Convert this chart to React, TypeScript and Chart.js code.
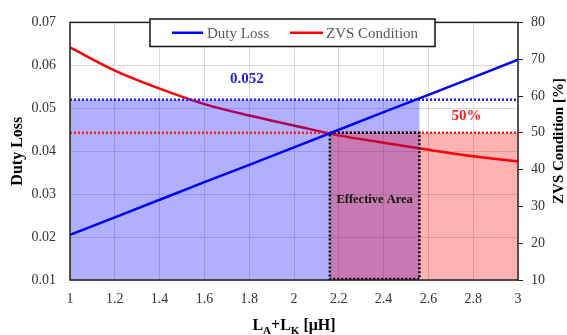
import React, { useEffect, useRef } from "react";
import { Chart, registerables } from "chart.js";

Chart.register(...registerables);

const xValues = [1, 1.2, 1.4, 1.6, 1.8, 2.0, 2.2, 2.4, 2.6, 2.8, 3.0];
const dutyLoss = [0.0205, 0.0246, 0.0287, 0.0328, 0.0368, 0.0409, 0.045, 0.0491, 0.0531, 0.0572, 0.0613];
const zvsCondition = [73.2, 66.9, 62.0, 57.8, 54.7, 52.0, 49.3, 47.3, 45.4, 43.6, 42.2];

const seriesNames = ["Duty Loss", "ZVS Condition"];
const dutyLimit = 0.052;
const zvsLimit = 50;
const xZvsLimit = 2.16;
const xDutyLimit = 2.56;
const dutyLimitLabel = "0.052";
const zvsLimitLabel = "50%";
const areaLabel = "Effective Area";
const labelDutyPos = { x: 1.79, y: 0.0568 };
const labelZvsPos = { x: 2.77, y: 54.5 };

const SERIF = "'Liberation Serif', 'Times New Roman', serif";

const overlayPlugin = {
  id: "overlay",
  afterDatasetDraw(chart: any, args: any) {
    if (args.index !== 1) return;
    const { ctx, chartArea: a, scales } = chart;
    const x = scales.x, y = scales.y, y2 = scales.y2;
    const xd = x.getPixelForValue(xDutyLimit);
    const xz = x.getPixelForValue(xZvsLimit);
    const yd = y.getPixelForValue(dutyLimit);
    const yz = y2.getPixelForValue(zvsLimit);
    ctx.save();
    ctx.fillStyle = "rgba(0,0,255,0.31)";
    ctx.fillRect(a.left, yd, xd - a.left, a.bottom - yd);
    ctx.fillStyle = "rgba(255,0,0,0.3)";
    ctx.fillRect(xz, yz, a.right - xz, a.bottom - yz);

    ctx.lineWidth = 2.5;
    ctx.setLineDash([2, 2]);
    ctx.strokeStyle = "#1a1aff";
    ctx.beginPath();
    ctx.moveTo(a.left, yd);
    ctx.lineTo(a.right, yd);
    ctx.stroke();
    ctx.strokeStyle = "#ff1a1a";
    ctx.beginPath();
    ctx.moveTo(a.left, yz);
    ctx.lineTo(a.right, yz);
    ctx.stroke();
    ctx.strokeStyle = "#000";
    ctx.beginPath();
    ctx.rect(xz, yz, xd - xz, a.bottom - yz - 1);
    ctx.stroke();
    ctx.restore();
  },
  afterDraw(chart: any) {
    const { ctx, chartArea: a, scales } = chart;
    const x = scales.x, y = scales.y, y2 = scales.y2;
    ctx.save();
    // plot border
    ctx.setLineDash([]);
    ctx.strokeStyle = "#222";
    ctx.lineWidth = 1.5;
    ctx.strokeRect(a.left, a.top, a.right - a.left, a.bottom - a.top);

    // value labels
    ctx.textAlign = "center";
    ctx.textBaseline = "middle";
    ctx.font = `bold 15px ${SERIF}`;
    ctx.fillStyle = "#1f1fe6";
    ctx.fillText(dutyLimitLabel, x.getPixelForValue(labelDutyPos.x), y.getPixelForValue(labelDutyPos.y));
    ctx.fillStyle = "#ff2020";
    ctx.fillText(zvsLimitLabel, x.getPixelForValue(labelZvsPos.x), y2.getPixelForValue(labelZvsPos.y));
    ctx.font = `bold 12.5px ${SERIF}`;
    ctx.fillStyle = "#111";
    const xd = x.getPixelForValue(xDutyLimit);
    const xz = x.getPixelForValue(xZvsLimit);
    ctx.fillText(areaLabel, (xd + xz) / 2, 200);

    // legend
    const lx = 150, ly = 19, lw = 285, lh = 27.5;
    ctx.fillStyle = "#fff";
    ctx.fillRect(lx, ly, lw, lh);
    ctx.strokeStyle = "#111";
    ctx.lineWidth = 1.5;
    ctx.strokeRect(lx, ly, lw, lh);
    const my = ly + lh / 2;
    ctx.lineWidth = 2.5;
    ctx.strokeStyle = "#0000ff";
    ctx.beginPath(); ctx.moveTo(172, my); ctx.lineTo(203, my); ctx.stroke();
    ctx.strokeStyle = "#ff0000";
    ctx.beginPath(); ctx.moveTo(290, my); ctx.lineTo(323, my); ctx.stroke();
    ctx.font = `15px ${SERIF}`;
    ctx.fillStyle = "#595959";
    ctx.textAlign = "left";
    ctx.fillText(seriesNames[0], 207, my + 1);
    ctx.fillText(seriesNames[1], 326, my + 1);

    // axis titles
    ctx.fillStyle = "#000";
    ctx.textAlign = "center";
    ctx.font = `bold 16px ${SERIF}`;
    ctx.save();
    ctx.translate(18, (a.top + a.bottom) / 2);
    ctx.rotate(-Math.PI / 2);
    ctx.fillText("Duty Loss", 0, 0);
    ctx.restore();
    ctx.save();
    ctx.font = `bold 15px ${SERIF}`;
    ctx.translate(559, 141);
    ctx.rotate(-Math.PI / 2);
    ctx.fillText("ZVS Condition [%]", 0, 0);
    ctx.restore();

    // x title with subscripts
    const big = `bold 16px ${SERIF}`;
    const small = `bold 11px ${SERIF}`;
    const parts: [string, string, number][] = [
      ["L", big, 0], ["A", small, 4], ["+L", big, 0], ["K", small, 4], [" [\u03bcH]", big, 0],
    ];
    ctx.textAlign = "left";
    ctx.textBaseline = "alphabetic";
    let total = 0;
    for (const [t, f] of parts) { ctx.font = f; total += ctx.measureText(t).width; }
    let cx = (a.left + a.right) / 2 - total / 2;
    const base = 330;
    for (const [t, f, dy] of parts) {
      ctx.font = f;
      ctx.fillText(t, cx, base + dy);
      cx += ctx.measureText(t).width;
    }
    ctx.restore();
  },
};

export default function App() {
  const ref = useRef<HTMLCanvasElement | null>(null);
  useEffect(() => {
    document.body.style.margin = "0";
    const canvas = ref.current!;
    const chart = new Chart(canvas, {
      type: "line",
      data: {
        datasets: [
          {
            label: seriesNames[0],
            data: xValues.map((v, i) => ({ x: v, y: dutyLoss[i] })),
            borderColor: "#0000ff",
            borderWidth: 2.5,
            pointRadius: 0,
            yAxisID: "y",
          },
          {
            label: seriesNames[1],
            data: xValues.map((v, i) => ({ x: v, y: zvsCondition[i] })),
            borderColor: "#ff0000",
            borderWidth: 2.5,
            pointRadius: 0,
            cubicInterpolationMode: "monotone",
            yAxisID: "y2",
          },
        ],
      },
      options: {
        responsive: false,
        animation: false,
        devicePixelRatio: 1,
        layout: { padding: { top: 13, left: 0, right: 0, bottom: 0 } },
        plugins: { legend: { display: false }, tooltip: { enabled: false } },
        scales: {
          x: {
            type: "linear",
            min: 1,
            max: 3,
            ticks: {
              stepSize: 0.2,
              color: "#333",
              padding: 11,
              font: { family: SERIF, size: 14 },
              callback: (v: any) => String(Math.round(Number(v) * 10) / 10),
            },
            grid: { color: "#d9d9d9", drawTicks: false },
            border: { display: false },
            afterFit: (s: any) => { s.height = 55; },
          },
          y: {
            position: "left",
            min: 0.01,
            max: 0.07,
            ticks: {
              stepSize: 0.01,
              color: "#333",
              padding: 14,
              font: { family: SERIF, size: 14 },
              callback: (v: any) => Number(v).toFixed(2),
            },
            grid: { color: "#d9d9d9", drawTicks: false },
            border: { display: false },
            afterFit: (s: any) => { s.width = 70; },
          },
          y2: {
            position: "right",
            min: 10,
            max: 80,
            ticks: { stepSize: 10, color: "#333", padding: 8, font: { family: SERIF, size: 14 } },
            grid: { drawOnChartArea: false, drawTicks: true, tickLength: 5, color: "#222" },
            border: { display: false },
            afterFit: (s: any) => { s.width = 49; },
          },
        },
      },
      plugins: [overlayPlugin],
    } as any);
    return () => chart.destroy();
  }, []);
  return (
    <div style={{ width: 567, height: 335 }}>
      <canvas ref={ref} width={567} height={335} style={{ display: "block" }} />
    </div>
  );
}
